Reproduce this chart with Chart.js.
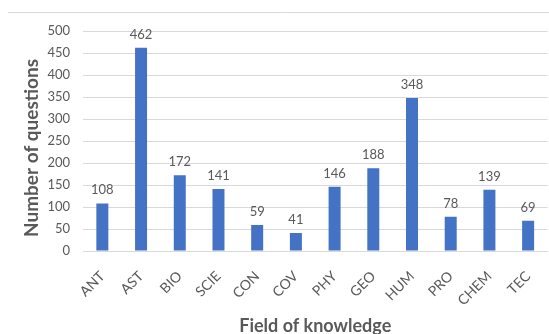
<!DOCTYPE html>
<html>
<head>
<meta charset="utf-8">
<script src="https://cdn.jsdelivr.net/npm/chart.js@4"></script>
<style>
  html, body { margin: 0; padding: 0; background: #fff; overflow: hidden; }
  #wrap { width: 557px; height: 334px; position: relative; }
</style>
</head>
<body>
<div id="wrap"><canvas id="c"></canvas></div>
<script>
const categories = ['ANT', 'AST', 'BIO', 'SCIE', 'CON', 'COV', 'PHY', 'GEO', 'HUM', 'PRO', 'CHEM', 'TEC'];
const questions = [108, 462, 172, 141, 59, 41, 146, 188, 348, 78, 139, 69];
const yTitle = 'Number of questions';
const xTitle = 'Field of knowledge';

const textGray = '#595959';
const gridGray = '#d9d9d9';
const barBlue = '#4472C4';
const fontFamily = 'Lato, "Open Sans", sans-serif';

// Writes each bar's value just above it
const valueLabels = {
  id: 'valueLabels',
  afterDatasetsDraw(chart) {
    const ctx = chart.ctx;
    const meta = chart.getDatasetMeta(0);
    ctx.save();
    ctx.fillStyle = textGray;
    ctx.font = '13px ' + fontFamily;
    ctx.textAlign = 'center';
    ctx.textBaseline = 'alphabetic';
    meta.data.forEach((bar, i) => {
      ctx.fillText(String(questions[i]), bar.x, bar.y - 9);
    });
    ctx.restore();
  }
};

// Thin rule across the top of the frame, plus the vertical axis title
const frameExtras = {
  id: 'frameExtras',
  beforeDraw(chart) {
    const ctx = chart.ctx;
    ctx.save();
    ctx.strokeStyle = gridGray;
    ctx.lineWidth = 1;
    ctx.beginPath();
    ctx.moveTo(8, 12.5);
    ctx.lineTo(chart.width, 12.5);
    ctx.stroke();
    ctx.restore();
  },
  afterDraw(chart) {
    const ctx = chart.ctx;
    ctx.save();
    ctx.fillStyle = textGray;
    ctx.font = 'bold 19px ' + fontFamily;
    ctx.textAlign = 'center';
    ctx.textBaseline = 'middle';
    ctx.translate(32, 148);
    ctx.rotate(-Math.PI / 2);
    ctx.fillText(yTitle, 0, 0);
    ctx.restore();
  }
};

new Chart(document.getElementById('c'), {
  type: 'bar',
  data: {
    labels: categories,
    datasets: [{
      data: questions,
      backgroundColor: barBlue,
      barPercentage: 0.62,
      categoryPercentage: 0.5
    }]
  },
  options: {
    responsive: true,
    maintainAspectRatio: false,
    animation: false,
    layout: { padding: { top: 31, left: 0, right: 0, bottom: 0 } },
    plugins: {
      legend: { display: false },
      tooltip: { enabled: false }
    },
    scales: {
      x: {
        afterFit(scale) { scale.height = 83; },
        grid: { display: false, drawTicks: false },
        border: { display: true, color: gridGray },
        ticks: {
          color: textGray,
          font: { family: fontFamily, size: 14 },
          maxRotation: 45,
          minRotation: 45,
          padding: 17
        },
        title: {
          display: true,
          text: xTitle,
          color: textGray,
          font: { family: fontFamily, size: 18, weight: 'bold' },
          padding: { top: 4, bottom: -3 }
        }
      },
      y: {
        min: 0,
        max: 500,
        afterFit(scale) { scale.width = 83; },
        grid: { color: gridGray, drawTicks: false },
        border: { display: false },
        ticks: {
          stepSize: 50,
          color: textGray,
          font: { family: fontFamily, size: 13 },
          padding: 13
        }
      }
    }
  },
  plugins: [valueLabels, frameExtras]
});
</script>
</body>
</html>
